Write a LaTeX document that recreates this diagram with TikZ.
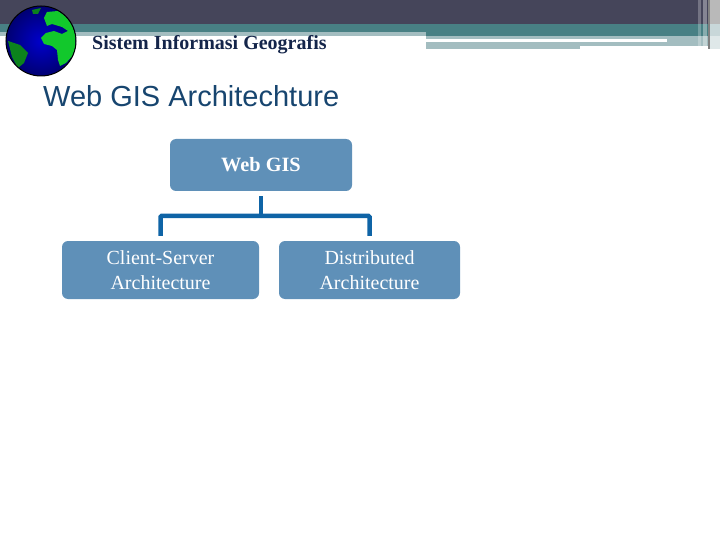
\documentclass[tikz,border=0pt]{standalone}
\usepackage{fontspec}
\setmainfont{Liberation Serif}
\newfontfamily\titlefont{Liberation Sans}
\definecolor{BarDark}{HTML}{45455A}
\definecolor{BarTeal}{HTML}{488084}
\definecolor{BarLight}{HTML}{A3BDC0}
\definecolor{BoxBlue}{HTML}{5F90B8}
\definecolor{LineBlue}{HTML}{0F64A6}
\definecolor{TitleBlue}{HTML}{17456F}
\definecolor{HeadBlue}{HTML}{14254A}
\definecolor{GlobeGreen}{HTML}{12C82C}
\usetikzlibrary{positioning, calc}
\tikzset{
    boxnode/.style={draw=none, fill=BoxBlue, rounded corners=6pt, text=white, align=center, font=\fontsize{20}{24.5}\selectfont},
    branch/.style={line width=4.5pt, LineBlue}
}

\begin{document}
\begin{tikzpicture}[x=1pt, y=-1pt]
    \useasboundingbox (0,0) rectangle (720,540);
    % banner
    \fill [BarDark] (0,0) rectangle (720,24);
    \fill [BarTeal] (0,24) rectangle (720,36);
    \fill [BarLight] (0,32) rectangle (426,36);
    \fill [BarLight] (426,36) rectangle (667,39);
    \fill [BarLight] (426,42) rectangle (580,49);
    \fill [BarLight] (580,42) rectangle (667,46);
    \fill [BarLight] (667,36) rectangle (708,46);
    \fill [white, opacity=0.25] (698,0) rectangle (701,46);
    \fill [white, opacity=0.35] (703,0) rectangle (707,46);
    \fill [gray!55!white] (709,0) rectangle (720,24);
    \fill [BarLight!60!white] (709,24) rectangle (720,36);
    \fill [BarLight!35!white] (709,36) rectangle (720,49);
    \fill [gray] (708,0) rectangle (710,49);
    % globe
    \shade [inner color=blue!80!black, outer color=blue!45!black] (41,41) circle (35);
    \begin{scope}
    \clip (41,41) circle (34.5);
    \fill [GlobeGreen] (47,12) -- (58,11) -- (68,18) -- (75,30) -- (77,42) -- (74,54) -- (66,63) -- (60,66) -- (58,60) -- (57,50) -- (52,46) -- (44,44) -- (41,38) -- (46,33) -- (54,31) -- (62,34) -- (68,31) -- (62,27) -- (52,24) -- (47,26) -- (44,18) -- cycle;
    \fill [GlobeGreen!65!black] (8,41) -- (20,45) -- (28,53) -- (24,63) -- (18,68) -- (12,57) -- cycle;
    \fill [GlobeGreen!65!black] (32,10) -- (41,8) -- (38,14) -- (33,14) -- cycle;
    \end{scope}
    \draw [line width=1pt, black] (41,41) circle (35);
    % texts
    \node (header) [anchor=west, font=\bfseries\fontsize{20}{22}\selectfont, text=HeadBlue, inner sep=0pt] at (92,44.5) {Sistem Informasi Geografis};
    \node (title) [anchor=west, font=\titlefont\fontsize{29}{32}\selectfont, text=TitleBlue, inner sep=0pt] at (43,96) {Web GIS Architechture};
    % boxes
    \node (webgis) [boxnode, minimum width=182pt, minimum height=52pt, font=\bfseries\fontsize{20.3}{24}\selectfont] at (261,165) {Web GIS};
    \node (client) [boxnode, minimum width=197pt, minimum height=58pt] at (160.5,270) {Client-Server\\Architecture};
    \node (distributed) [boxnode, minimum width=181pt, minimum height=58pt] at (369.5,270) {Distributed\\Architecture};
    % connectors
    \coordinate (junction) at (261,216);
    \draw [branch, shorten <=5pt] (webgis.south) -- (junction);
    \draw [branch, shorten >=5pt, rounded corners=1pt] (junction) -| (client.north);
    \draw [branch, shorten >=5pt, rounded corners=1pt] (junction) -| (distributed.north);
\end{tikzpicture}
\end{document}
